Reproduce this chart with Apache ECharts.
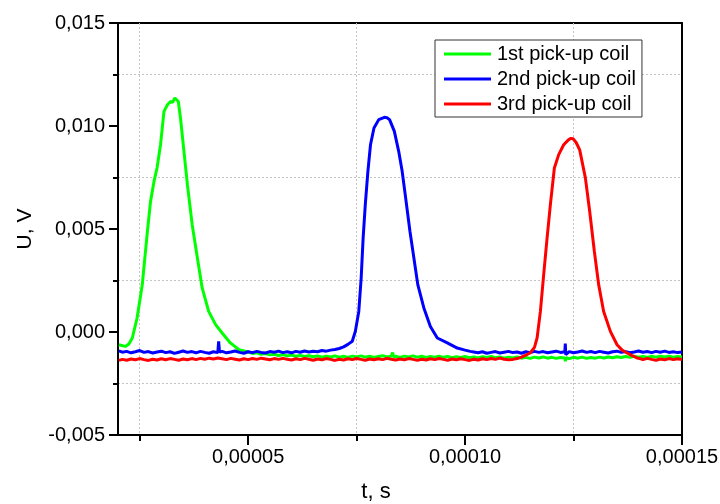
<!DOCTYPE html>
<html>
<head>
<meta charset="utf-8">
<script src="https://cdn.jsdelivr.net/npm/echarts@6/dist/echarts.min.js"></script>
<style>html,body{margin:0;padding:0;background:#fff}#c{width:720px;height:504px}</style>
</head>
<body>
<div id="c"></div>
<script>
const seriesNames = ['1st pick-up coil', '2nd pick-up coil', '3rd pick-up coil'];
const seriesColors = ['#00ff00', '#0000ff', '#ff0000'];
const xMajorTicks = [0.00005, 0.0001, 0.00015];
const xMinorTicks = [0.000025, 0.000075, 0.000125];
const xRange = [0.00002, 0.00015];
const yRange = [-0.005, 0.015];
const yStep = 0.005;

// [t (s), U (V)]
const coil1 = [
[20.2e-6,-0.00062],[21.7e-6,-0.00070],[22.5e-6,-0.00058],[23.3e-6,-0.00029],[24.4e-6,0.00068],[25.6e-6,0.00230],
[26.7e-6,0.00472],[27.5e-6,0.00634],[28.3e-6,0.00731],[29.0e-6,0.00796],[29.8e-6,0.00909],[30.6e-6,0.01071],
[31.4e-6,0.01103],[32.1e-6,0.01119],[32.6e-6,0.01115],[33.1e-6,0.01136],[33.5e-6,0.01130],[33.9e-6,0.01119],
[34.4e-6,0.01039],[35.2e-6,0.00877],[36.0e-6,0.00715],[37.1e-6,0.00521],[38.3e-6,0.00359],[39.4e-6,0.00214],
[40.9e-6,0.00100],[42.5e-6,0.00036],[44.0e-6,-0.00005],[45.9e-6,-0.00053],[47.9e-6,-0.00086],[50.2e-6,-0.00098],
[51e-6,-0.00104],[52e-6,-0.00101],[53e-6,-0.00108],[54e-6,-0.00105],[55e-6,-0.00111],[56e-6,-0.00108],[57e-6,-0.00114],
[58e-6,-0.00110],[59e-6,-0.00116],[60e-6,-0.00112],[61e-6,-0.00118],[62e-6,-0.00114],[63e-6,-0.00119],[64e-6,-0.00115],
[65e-6,-0.00120],[66e-6,-0.00116],[67e-6,-0.00122],[68e-6,-0.00117],[69e-6,-0.00121],[70e-6,-0.00116],[71e-6,-0.00122],
[72e-6,-0.00118],[73e-6,-0.00123],[74e-6,-0.00117],[75e-6,-0.00121],[76e-6,-0.00116],[77e-6,-0.00122],[78e-6,-0.00118],
[79e-6,-0.00124],[80e-6,-0.00119],[81e-6,-0.00115],[82e-6,-0.00121],[83e-6,-0.00117],[83.3e-6,-0.00100],[83.5e-6,-0.00120],
[84e-6,-0.00118],[85e-6,-0.00123],[86e-6,-0.00117],[87e-6,-0.00121],[88e-6,-0.00116],[89e-6,-0.00122],[90e-6,-0.00118],
[91e-6,-0.00124],[92e-6,-0.00119],[93e-6,-0.00122],[94e-6,-0.00117],[95e-6,-0.00123],[96e-6,-0.00119],[97e-6,-0.00125],
[98e-6,-0.00120],[99e-6,-0.00124],[100e-6,-0.00119],[101e-6,-0.00125],[102e-6,-0.00121],[103e-6,-0.00126],[104e-6,-0.00120],
[105e-6,-0.00124],[106e-6,-0.00119],[107e-6,-0.00125],[108e-6,-0.00121],[109e-6,-0.00127],[110e-6,-0.00122],[111e-6,-0.00126],
[112e-6,-0.00121],[113e-6,-0.00127],[114e-6,-0.00123],[115e-6,-0.00128],[116e-6,-0.00122],[117e-6,-0.00126],[118e-6,-0.00121],
[119e-6,-0.00127],[120e-6,-0.00123],[121e-6,-0.00128],[122e-6,-0.00124],[123e-6,-0.00126],[123.1e-6,-0.00142],[123.3e-6,-0.00125],
[124e-6,-0.00129],[125e-6,-0.00123],[126e-6,-0.00127],[127e-6,-0.00122],[128e-6,-0.00128],[129e-6,-0.00124],[130e-6,-0.00127],
[131e-6,-0.00122],[132e-6,-0.00126],[133e-6,-0.00121],[134e-6,-0.00125],[135e-6,-0.00120],[136e-6,-0.00124],[137e-6,-0.00119],
[138e-6,-0.00123],[139e-6,-0.00118],[140e-6,-0.00122],[141e-6,-0.00119],[142e-6,-0.00123],[143e-6,-0.00118],[144e-6,-0.00122],
[145e-6,-0.00117],[146e-6,-0.00121],[147e-6,-0.00118],[148e-6,-0.00122],[149e-6,-0.00119],[150e-6,-0.00121]
];

const coil2 = [
[20.2e-6,-0.00092],[21e-6,-0.00098],[22e-6,-0.00094],[23e-6,-0.00101],[24e-6,-0.00096],[25e-6,-0.00090],[26e-6,-0.00099],
[27e-6,-0.00095],[28e-6,-0.00102],[29e-6,-0.00097],[30e-6,-0.00093],[31e-6,-0.00100],[32e-6,-0.00096],[33e-6,-0.00104],
[34e-6,-0.00098],[35e-6,-0.00092],[36e-6,-0.00099],[37e-6,-0.00095],[38e-6,-0.00101],[39e-6,-0.00094],[40e-6,-0.00099],
[41e-6,-0.00103],[42e-6,-0.00096],[43e-6,-0.00100],[43.2e-6,-0.00045],[43.4e-6,-0.00098],[44e-6,-0.00094],[45e-6,-0.00101],
[46e-6,-0.00097],[47e-6,-0.00092],[48e-6,-0.00099],[49e-6,-0.00103],[50e-6,-0.00096],[51e-6,-0.00100],[52e-6,-0.00094],
[53e-6,-0.00099],[54e-6,-0.00102],[55e-6,-0.00095],[56e-6,-0.00098],[57e-6,-0.00093],[58e-6,-0.00100],[59e-6,-0.00096],
[60e-6,-0.00101],[61e-6,-0.00094],[62e-6,-0.00098],[63e-6,-0.00092],[64e-6,-0.00097],[65e-6,-0.00093],[66e-6,-0.00096],
[67e-6,-0.00090],[68e-6,-0.00093],[69e-6,-0.00088],[70e-6,-0.00085],[71e-6,-0.00080],[72e-6,-0.00072],[73e-6,-0.00060],
[74.0e-6,-0.00045],[74.7e-6,0.00003],[75.5e-6,0.00100],[76.05e-6,0.00262],[76.5e-6,0.00456],[77.0e-6,0.00618],[77.6e-6,0.00780],
[78.2e-6,0.00909],[79.0e-6,0.00990],[80.1e-6,0.01031],[81.4e-6,0.01042],[82.0e-6,0.01040],[82.6e-6,0.01031],[83.7e-6,0.00974],
[84.7e-6,0.00877],[85.5e-6,0.00780],[86.3e-6,0.00651],[87.3e-6,0.00488],[88.2e-6,0.00359],[89.1e-6,0.00230],[90.5e-6,0.00117],
[92.0e-6,0.00027],[93.6e-6,-0.00029],[95.9e-6,-0.00053],[98.2e-6,-0.00078],[100e-6,-0.00088],[101.2e-6,-0.00094],
[102e-6,-0.00097],[103e-6,-0.00101],[104e-6,-0.00096],[105e-6,-0.00103],[106e-6,-0.00099],[107e-6,-0.00095],[108e-6,-0.00102],
[109e-6,-0.00098],[110e-6,-0.00094],[111e-6,-0.00100],[112e-6,-0.00097],[113e-6,-0.00103],[114e-6,-0.00096],[115e-6,-0.00100],
[116e-6,-0.00094],[117e-6,-0.00099],[118e-6,-0.00095],[119e-6,-0.00101],[120e-6,-0.00097],[121e-6,-0.00093],[122e-6,-0.00099],
[123e-6,-0.00096],[123.1e-6,-0.00056],[123.2e-6,-0.00110],[124e-6,-0.00095],[125e-6,-0.00101],[126e-6,-0.00097],[127e-6,-0.00092],
[128e-6,-0.00099],[129e-6,-0.00095],[130e-6,-0.00100],[131e-6,-0.00094],[132e-6,-0.00098],[133e-6,-0.00102],[134e-6,-0.00096],
[135e-6,-0.00093],[136e-6,-0.00099],[137e-6,-0.00095],[138e-6,-0.00101],[139e-6,-0.00097],[140e-6,-0.00092],[141e-6,-0.00098],
[142e-6,-0.00095],[143e-6,-0.00100],[144e-6,-0.00094],[145e-6,-0.00098],[146e-6,-0.00093],[147e-6,-0.00099],[148e-6,-0.00096],
[149e-6,-0.00100],[150e-6,-0.00097]
];

const coil3 = [
[20.2e-6,-0.00138],[21e-6,-0.00133],[22e-6,-0.00137],[23e-6,-0.00131],[24e-6,-0.00135],[25e-6,-0.00129],[26e-6,-0.00134],
[27e-6,-0.00138],[28e-6,-0.00132],[29e-6,-0.00136],[30e-6,-0.00130],[31e-6,-0.00135],[32e-6,-0.00129],[33e-6,-0.00133],
[34e-6,-0.00137],[35e-6,-0.00131],[36e-6,-0.00135],[37e-6,-0.00129],[38e-6,-0.00134],[39e-6,-0.00128],[40e-6,-0.00132],
[41e-6,-0.00127],[42e-6,-0.00131],[43e-6,-0.00126],[44e-6,-0.00130],[45e-6,-0.00134],[46e-6,-0.00128],[47e-6,-0.00132],
[48e-6,-0.00136],[49e-6,-0.00130],[50e-6,-0.00134],[51e-6,-0.00129],[52e-6,-0.00133],[53e-6,-0.00127],[54e-6,-0.00131],
[55e-6,-0.00135],[56e-6,-0.00129],[57e-6,-0.00133],[58e-6,-0.00128],[59e-6,-0.00132],[60e-6,-0.00136],[61e-6,-0.00130],
[62e-6,-0.00134],[63e-6,-0.00128],[64e-6,-0.00132],[65e-6,-0.00137],[66e-6,-0.00131],[67e-6,-0.00135],[68e-6,-0.00129],
[69e-6,-0.00133],[70e-6,-0.00138],[71e-6,-0.00132],[72e-6,-0.00136],[73e-6,-0.00130],[74e-6,-0.00134],[75e-6,-0.00129],
[76e-6,-0.00133],[77e-6,-0.00137],[78e-6,-0.00131],[79e-6,-0.00135],[80e-6,-0.00130],[81e-6,-0.00134],[82e-6,-0.00128],
[83e-6,-0.00132],[84e-6,-0.00136],[85e-6,-0.00131],[86e-6,-0.00135],[87e-6,-0.00129],[88e-6,-0.00133],[89e-6,-0.00137],
[90e-6,-0.00132],[91e-6,-0.00136],[92e-6,-0.00130],[93e-6,-0.00134],[94e-6,-0.00129],[95e-6,-0.00133],[96e-6,-0.00137],
[97e-6,-0.00131],[98e-6,-0.00135],[99e-6,-0.00130],[100e-6,-0.00134],[101e-6,-0.00138],[102e-6,-0.00132],[103e-6,-0.00136],
[104e-6,-0.00130],[105e-6,-0.00134],[106e-6,-0.00129],[107e-6,-0.00133],[108e-6,-0.00127],[109e-6,-0.00132],[110e-6,-0.00135],
[111e-6,-0.00133],[112e-6,-0.00129],[113e-6,-0.00122],[114e-6,-0.00112],[115e-6,-0.00102],[115.45e-6,-0.00094],[116.0e-6,-0.00075],
[116.6e-6,-0.00029],[117.36e-6,0.00100],[118.12e-6,0.00278],[118.9e-6,0.00456],[119.66e-6,0.00618],[120.58e-6,0.00796],
[121.58e-6,0.00861],[122.73e-6,0.00909],[123.88e-6,0.00934],[124.4e-6,0.00940],[124.89e-6,0.00938],[125.6e-6,0.00920],
[126.42e-6,0.00884],[127.73e-6,0.00748],[128.72e-6,0.00586],[129.8e-6,0.00391],[130.79e-6,0.00230],[131.94e-6,0.00100],
[133.49e-6,0.00003],[135.03e-6,-0.00062],[136.2e-6,-0.00088],[137.34e-6,-0.00102],[138.5e-6,-0.00115],[139.64e-6,-0.00126],
[140.5e-6,-0.00130],[141e-6,-0.00134],[142e-6,-0.00128],[143e-6,-0.00133],[144e-6,-0.00137],[145e-6,-0.00131],[146e-6,-0.00135],
[147e-6,-0.00129],[148e-6,-0.00134],[149e-6,-0.00130],[150e-6,-0.00133]
];

const seriesData = [coil1, coil2, coil3];
const FONT = 'Arial, "Liberation Sans", sans-serif';
const commaFmt = d => v => v.toFixed(d).replace('.', ',');

const chart = echarts.init(document.getElementById('c'), null, {renderer: 'canvas'});
chart.setOption({
  animation: false,
  backgroundColor: '#fff',
  textStyle: {fontFamily: FONT},
  grid: {left: 118, right: 38, top: 23, bottom: 69, containLabel: false, outerBoundsMode: 'none',
         show: true, borderColor: '#000', borderWidth: 2, backgroundColor: 'transparent'},
  legend: {
    orient: 'vertical', left: 435, top: 40,
    padding: [4, 6, 3, 9], itemGap: 5, itemWidth: 47, itemHeight: 3,
    backgroundColor: '#fff', borderColor: '#333', borderWidth: 1, borderRadius: 0,
    icon: 'rect',
    textStyle: {fontSize: 20, color: '#000', fontFamily: FONT, padding: [0, 0, 0, 1]},
    data: seriesNames
  },
  xAxis: [{
    type: 'value', min: xRange[0], max: xRange[1], position: 'bottom',
    axisLine: {show: true, onZero: false, lineStyle: {color: '#000', width: 2}},
    axisTick: {show: true, customValues: xMajorTicks, length: 10, lineStyle: {color: '#000', width: 2}},
    axisLabel: {show: true, customValues: xMajorTicks, formatter: commaFmt(5), fontSize: 20, color: '#000', margin: 12, fontFamily: FONT},
    splitLine: {show: false},
    name: 't, s', nameLocation: 'middle', nameGap: 46,
    nameTextStyle: {fontSize: 22, color: '#000', fontFamily: FONT, padding: [0, 48, 0, 0]}
  }, {
    type: 'value', min: xRange[0], max: xRange[1], position: 'bottom',
    axisLine: {show: false, onZero: false},
    axisTick: {show: true, customValues: xMinorTicks, length: 6, lineStyle: {color: '#000', width: 2}},
    axisLabel: {show: false},
    splitLine: {show: true, lineStyle: {color: '#c4c4c4', width: 1, type: [2, 2]}}
  }],
  yAxis: {
    type: 'value', min: yRange[0], max: yRange[1], interval: yStep,
    axisLine: {show: true, onZero: false, lineStyle: {color: '#000', width: 2}},
    axisTick: {show: true, length: 9, lineStyle: {color: '#000', width: 2}},
    minorTick: {show: true, splitNumber: 2, length: 5, lineStyle: {color: '#000', width: 2}},
    axisLabel: {formatter: commaFmt(3), fontSize: 20, color: '#000', margin: 13, fontFamily: FONT},
    splitLine: {show: false},
    minorSplitLine: {show: true, lineStyle: {color: '#c4c4c4', width: 1, type: [2, 2]}},
    name: 'U, V', nameLocation: 'middle', nameGap: 82,
    nameTextStyle: {fontSize: 21, color: '#000', fontFamily: FONT}
  },
  series: seriesData.map((d, i) => ({
    name: seriesNames[i], type: 'line', data: d, xAxisIndex: 0,
    showSymbol: false, symbol: 'none', silent: true,
    lineStyle: {color: seriesColors[i], width: 3},
    itemStyle: {color: seriesColors[i]}
  }))
});
</script>
</body>
</html>
